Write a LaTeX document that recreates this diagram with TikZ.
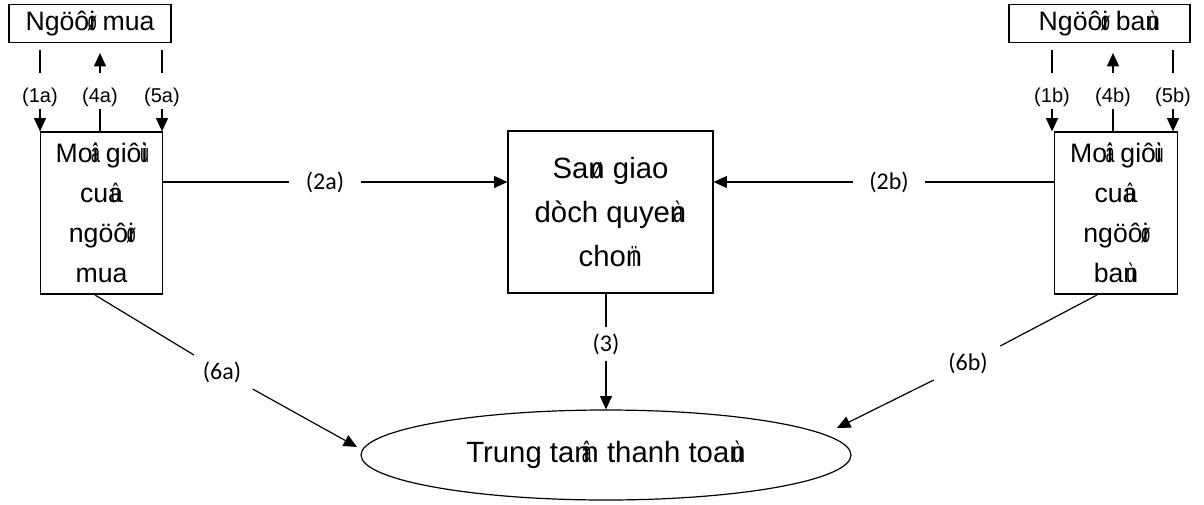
\documentclass[tikz,border=0pt]{standalone}
\usepackage{fontspec}
\setmainfont{Liberation Sans}
\newfontfamily\lblfont{Carlito}
\usetikzlibrary{arrows.meta, shapes.geometric}
% tone byte printed over the next letter
\newcommand{\vtone}[2]{\ooalign{#2\cr\hidewidth\scalebox{0.6}[1]{#1}\hidewidth\cr}}

\begin{document}
\begin{tikzpicture}[x = 0.75pt, y = -0.75pt, line width = 0.9pt,
                    >={Triangle[length = 10pt, width = 9pt]},
                    party/.style = {draw, rectangle, inner sep = 0pt, minimum height = 29pt, font = \fontsize{20}{24}\selectfont},
                    broker/.style = {draw, rectangle, inner sep = 0pt, minimum width = 92pt, minimum height = 121.5pt, align = center, font = \fontsize{20}{30}\selectfont},
                    lbl/.style = {inner xsep = 0pt, inner ysep = 0pt, text height = 21pt, text depth = 4.5pt, font = \fontsize{15}{18}\selectfont},
                    mlbl/.style = {inner xsep = 12pt, inner ysep = 4.5pt, font = \lblfont\fontsize{18}{22}\selectfont}]
                    \useasboundingbox (0, 0) rectangle (1204, 504);

                    \node at (90, 23.5) [party, minimum width = 121.5pt] (buyer) {Ngöô\vtone{ø}{i} mua};
                    \node at (1099.5, 23.5) [party, minimum width = 135.75pt] (seller) {Ngöô\vtone{ø}{i} ba\vtone{ù}{n}};
                    \node at (101.5, 213) [broker] (bbroker) {Mo\vtone{â}{i} giô\vtone{ù}{i}\\cu\vtone{û}{a}\\ngöô\vtone{ø}{i}\\mua};
                    \node at (1116, 213) [broker] (sbroker) {Mo\vtone{â}{i} giô\vtone{ù}{i}\\cu\vtone{û}{a}\\ngöô\vtone{ø}{i}\\ba\vtone{ù}{n}};
                    \node at (610.5, 212) [broker, minimum width = 153.75pt, font = \fontsize{22}{33}\selectfont] (exchange) {Sa\vtone{ø}{n} giao\\dòch quye\vtone{à}{n}\\cho\vtone{ï}{n}};
                    \node at (606, 455) [draw, ellipse, inner sep = 0pt, minimum width = 367.5pt, minimum height = 67.5pt, font = \fontsize{22}{26}\selectfont] (clearing) {Trung ta\vtone{â}{m} thanh toa\vtone{ù}{n}};

                    \node at (40, 91) [lbl] (l1a) {(1a)};
                    \node at (100, 91) [lbl] (l4a) {(4a)};
                    \node at (162, 91) [lbl] (l5a) {(5a)};
                    \node at (1052, 91) [lbl] (l1b) {(1b)};
                    \node at (1113, 91) [lbl] (l4b) {(4b)};
                    \node at (1173, 91) [lbl] (l5b) {(5b)};
                    \coordinate (c1a) at (40, 50);
                    \coordinate (c4a) at (100, 53);
                    \coordinate (c5a) at (162, 50);
                    \coordinate (c1b) at (1052, 50);
                    \coordinate (c4b) at (1113, 53);
                    \coordinate (c5b) at (1173, 50);

                    \draw (c1a) -- (l1a);
                    \draw [->] (l1a) -- (l1a |- bbroker.north);
                    \draw (l4a |- bbroker.north) -- (l4a);
                    \draw [->] (l4a) -- (c4a);
                    \draw (c5a) -- (l5a);
                    \draw [->] (l5a) -- (l5a |- bbroker.north);
                    \draw (c1b) -- (l1b);
                    \draw [->] (l1b) -- (l1b |- sbroker.north);
                    \draw (l4b |- sbroker.north) -- (l4b);
                    \draw [->] (l4b) -- (c4b);
                    \draw (c5b) -- (l5b);
                    \draw [->] (l5b) -- (l5b |- sbroker.north);

                    \node at (325, 182) [mlbl] (l2a) {(2a)};
                    \node at (889, 182) [mlbl] (l2b) {(2b)};
                    \node at (606, 344) [mlbl] (l3) {(3)};
                    \node at (222, 372) [mlbl] (l6a) {(6a)};
                    \node at (968, 363) [mlbl] (l6b) {(6b)};
                    \coordinate (s6a) at (95, 295);
                    \coordinate (t6a) at (357, 447);
                    \coordinate (s6b) at (1097, 295);
                    \coordinate (t6b) at (837, 428);

                    \draw (l2a -| bbroker.east) -- (l2a);
                    \draw [->] (l2a) -- (l2a -| exchange.west);
                    \draw (l2b -| sbroker.west) -- (l2b);
                    \draw [->] (l2b) -- (l2b -| exchange.east);
                    \draw (l3 |- exchange.south) -- (l3);
                    \draw [->] (l3) -- (l3 |- clearing.north);
                    \draw (s6a) -- (l6a);
                    \draw [->] (l6a) -- (t6a);
                    \draw (s6b) -- (l6b);
                    \draw [->] (l6b) -- (t6b);
                \end{tikzpicture}
\end{document}
